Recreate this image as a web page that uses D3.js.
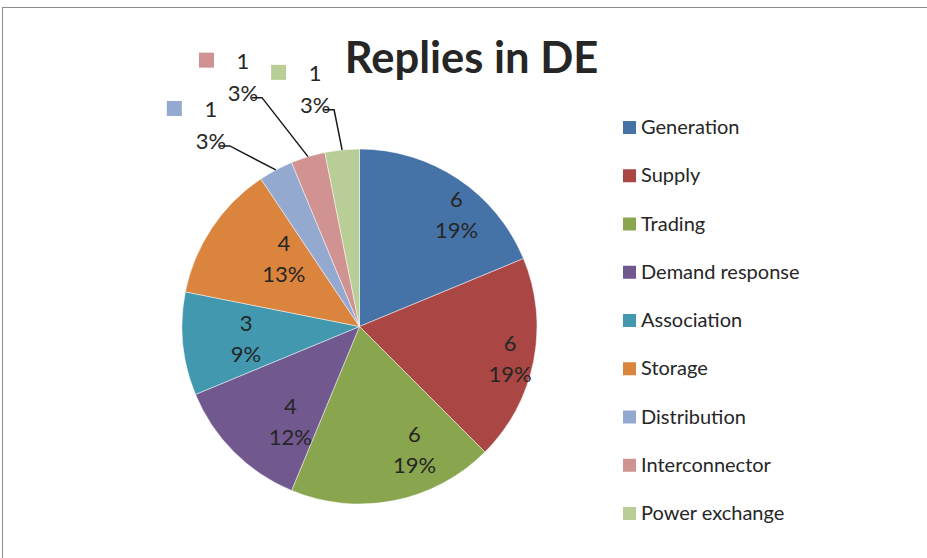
<!DOCTYPE html>
<html>
<head>
<meta charset="utf-8">
<script src="https://cdn.jsdelivr.net/npm/d3@7"></script>
<style>
  html, body { margin: 0; padding: 0; background: #fff; }
  svg { display: block; }
  text { font-family: Lato, "Open Sans", sans-serif; fill: #262626; }
</style>
</head>
<body>
<svg id="chart" width="927" height="558"></svg>
<script>
// ---- data ----
const categories = ["Generation", "Supply", "Trading", "Demand response", "Association",
                    "Storage", "Distribution", "Interconnector", "Power exchange"];
const values = [6, 6, 6, 4, 3, 4, 1, 1, 1];
const percentLabels = ["19%", "19%", "19%", "12%", "9%", "13%", "3%", "3%", "3%"];
const colors = ["#4572A7", "#AA4643", "#89A54E", "#71588F", "#4198AF",
                "#DB843D", "#93A9CF", "#D19392", "#B9CD96"];
const title = "Replies in DE";

// ---- layout ----
const W = 927, H = 558;
const cx = 359.5, cy = 326.5, R = 177.5;
// label placement nudges (inside labels: from centroid at 0.75R; outside: from edge midpoint)
const insideNudge = [[23, -1], [20, 7], [29, -7], [25, 1], [19, -1], [35, 6]];
const outsideNudge = [[-65, -53], [-65, -88], [-27, -69]];

const svg = d3.select("#chart");

// border
svg.append("rect")
  .attr("x", 2.5).attr("y", 7.5).attr("width", 1000).attr("height", 1000)
  .attr("fill", "none").attr("stroke", "#8c8c8c").attr("stroke-width", 1);

const data = categories.map((c, i) => ({ cat: c, value: values[i], pct: percentLabels[i], color: colors[i], i }));

const pie = d3.pie().value(d => d.value).sort(null);
const arcs = pie(data);
const arc = d3.arc().innerRadius(0).outerRadius(R);
const labelArc = d3.arc().innerRadius(R * 0.75).outerRadius(R * 0.75);
const edgeArc = d3.arc().innerRadius(R).outerRadius(R);

const g = svg.append("g").attr("transform", `translate(${cx},${cy})`);

g.selectAll("path.slice")
  .data(arcs)
  .join("path")
  .attr("class", "slice")
  .attr("d", arc)
  .attr("fill", d => d.data.color)
  .attr("stroke", "#ffffff")
  .attr("stroke-opacity", 0.6)
  .attr("stroke-width", 0.8);

// inside labels
const inside = arcs.filter(d => d.data.value > 1);
inside.forEach((d, k) => {
  const [x0, y0] = labelArc.centroid(d);
  const x = x0 + insideNudge[k][0], y = y0 + insideNudge[k][1];
  const t = g.append("text").attr("text-anchor", "middle").style("font-size", "22px");
  t.append("tspan").attr("x", x).attr("y", y - 8).text(d.data.value);
  t.append("tspan").attr("x", x).attr("y", y + 23).text(d.data.pct);
});

// outside labels with leader lines and legend keys
const outside = arcs.filter(d => d.data.value === 1);
outside.forEach((d, k) => {
  const [ex, ey] = edgeArc.centroid(d);
  const x = ex + outsideNudge[k][0], y = ey + outsideNudge[k][1];
  const t = g.append("text").attr("text-anchor", "middle").style("font-size", "22px");
  t.append("tspan").attr("x", x).attr("y", y).text(d.data.value);
  t.append("tspan").attr("x", x).attr("y", y + 32).text(d.data.pct);
  g.append("rect")
    .attr("x", x - 44).attr("y", y - 16).attr("width", 15).attr("height", 15)
    .attr("fill", d.data.color);
  const b2 = y + 32;
  g.append("path")
    .attr("d", d3.line()([[x + 9, b2 - 3], [x + 19, b2 - 3], [ex, ey]]))
    .attr("fill", "none").attr("stroke", "#1a1a1a").attr("stroke-width", 1.5);
});

// title
svg.append("text")
  .attr("x", 471.5).attr("y", 73)
  .attr("text-anchor", "middle")
  .style("font-size", "43.5px").style("font-weight", "bold")
  .text(title);

// legend
const legend = svg.append("g").attr("transform", "translate(623,0)");
const ly = d3.scalePoint().domain(categories).range([134, 520]);
const items = legend.selectAll("g.item").data(categories).join("g")
  .attr("class", "item")
  .attr("transform", d => `translate(0,${ly(d)})`);
items.append("rect")
  .attr("x", 0).attr("y", -13).attr("width", 13).attr("height", 13)
  .attr("fill", (d, i) => colors[i]);
items.append("text")
  .attr("x", 18).attr("y", 0)
  .style("font-size", "20px")
  .text(d => d);
</script>
</body>
</html>
